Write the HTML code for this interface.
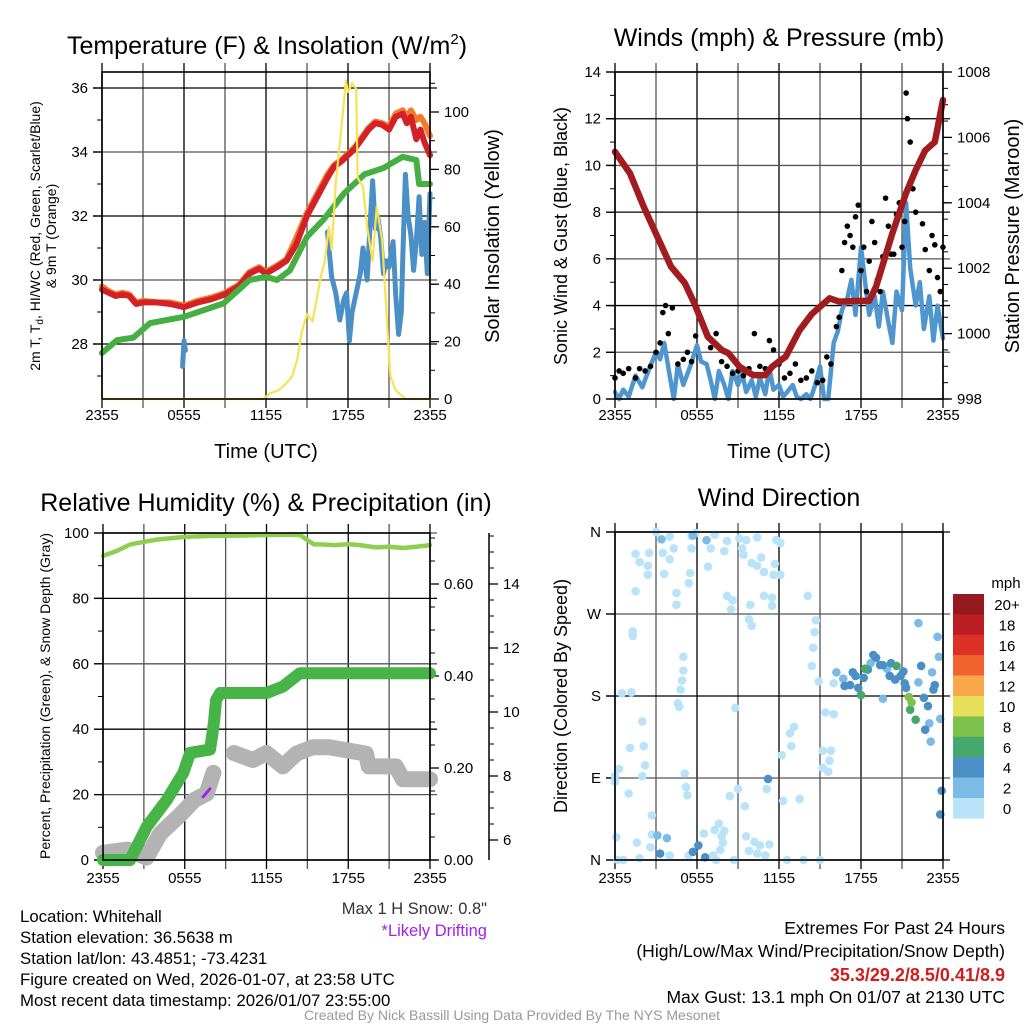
<!DOCTYPE html>
<html><head><meta charset="utf-8">
<style>
html,body{margin:0;padding:0;background:#fff;}
svg{display:block;font-family:"Liberation Sans",Arial,sans-serif;}
</style></head>
<body>
<svg id="chart" width="1024" height="1024" viewBox="0 0 1024 1024" xmlns="http://www.w3.org/2000/svg">
<rect width="1024" height="1024" fill="#fff"/>
<g id="layer"></g>
<text x="267" y="54" font-size="25" text-anchor="middle">Temperature (F) &amp; Insolation (W/m<tspan font-size="15" dy="-10">2</tspan><tspan dy="10">)</tspan></text>
<text x="779" y="46" font-size="25" text-anchor="middle">Winds (mph) &amp; Pressure (mb)</text>
<text x="266" y="511" font-size="25" text-anchor="middle">Relative Humidity (%) &amp; Precipitation (in)</text>
<text x="779" y="506" font-size="25" text-anchor="middle">Wind Direction</text>
<text x="266" y="458" font-size="20" text-anchor="middle">Time (UTC)</text>
<text x="779" y="458" font-size="20" text-anchor="middle">Time (UTC)</text>
<text font-size="14" text-anchor="middle" transform="translate(40,236) rotate(-90)">2m T, T<tspan font-size="10" dy="3">d</tspan><tspan dy="-3">, HI/WC (Red, Green, Scarlet/Blue)</tspan></text>
<text font-size="14" text-anchor="middle" transform="translate(56,236) rotate(-90)">&amp; 9m T (Orange)</text>
<text font-size="20" text-anchor="middle" transform="translate(499,236) rotate(-90)">Solar Insolation (Yellow)</text>
<text font-size="18" text-anchor="middle" transform="translate(567,236) rotate(-90)">Sonic Wind &amp; Gust (Blue, Black)</text>
<text font-size="20" text-anchor="middle" transform="translate(1019,236) rotate(-90)">Station Pressure (Maroon)</text>
<text font-size="14" text-anchor="middle" transform="translate(50,696) rotate(-90)">Percent, Precipitation (Green), &amp; Snow Depth (Gray)</text>
<text font-size="18" text-anchor="middle" transform="translate(567,696) rotate(-90)">Direction (Colored By Speed)</text>
<text x="1006" y="588" font-size="15" text-anchor="middle">mph</text>
<g font-size="16.8">
<text x="20" y="922">Location: Whitehall</text>
<text x="20" y="943">Station elevation: 36.5638 m</text>
<text x="20" y="964">Station lat/lon: 43.4851; -73.4231</text>
<text x="20" y="985">Figure created on Wed, 2026-01-07, at 23:58 UTC</text>
<text x="20" y="1006">Most recent data timestamp: 2026/01/07 23:55:00</text>
</g>
<text x="487" y="914" font-size="16.5" text-anchor="end" fill="#333">Max 1 H Snow: 0.8"</text>
<text x="487" y="936" font-size="16.5" text-anchor="end" fill="#a020f0">*Likely Drifting</text>
<g font-size="17.5" text-anchor="end">
<text x="1005" y="934">Extremes For Past 24 Hours</text>
<text x="1005" y="957">(High/Low/Max Wind/Precipitation/Snow Depth)</text>
<text x="1005" y="981" fill="#d01c1c" font-weight="bold" font-size="18">35.3/29.2/8.5/0.41/8.9</text>
<text x="1005" y="1003">Max Gust: 13.1 mph On 01/07 at 2130 UTC</text>
</g>
<text x="512" y="1020" font-size="14" text-anchor="middle" fill="#999">Created By Nick Bassill Using Data Provided By The NYS Mesonet</text>
</svg>
<script>
// ---------- data ----------
const xTickLabels = ["2355","0555","1155","1755","2355"];
const tempT = [0,0.5,1,1.5,2,2.5,3,4,5,6,7,8,9,10,10.8,11.5,12,12.8,13.5,14.2,15,15.5,16,16.5,17,17.5,18,18.5,19,19.5,20,20.5,21,21.5,22,22.3,22.6,23,23.3,23.6,24];
const tempVals = [29.7,29.6,29.5,29.55,29.5,29.25,29.3,29.3,29.25,29.15,29.3,29.4,29.55,29.8,30.2,30.35,30.2,30.4,30.6,31.1,32.0,32.4,32.8,33.2,33.55,33.7,33.9,34.1,34.4,34.7,34.9,34.85,34.7,35.1,35.2,34.9,35.1,34.4,34.7,34.3,33.9];
const temp9Vals = [29.8,29.65,29.55,29.6,29.55,29.3,29.35,29.3,29.3,29.2,29.35,29.45,29.6,29.85,30.25,30.4,30.25,30.45,30.65,31.3,32.1,32.5,32.9,33.3,33.6,33.75,33.95,34.15,34.45,34.75,34.95,34.9,34.8,35.2,35.3,35.1,35.3,35.0,35.1,34.9,34.5];
const dewT = [0,1.1,2.3,3.5,6,8.9,10.8,12,12.8,13.75,15,16.2,17.7,19.2,20.6,22,22.5,23,23.2,24];
const dewVals = [27.72,28.12,28.2,28.65,28.85,29.27,30.0,30.1,30.0,30.3,31.35,31.88,32.7,33.3,33.5,33.85,33.8,33.75,33.0,33.0];
const wcT1 = [5.9,6.0,6.1];
const wcVals1 = [27.3,28.1,27.8];
const wcT2 = [16.5,16.8,17.1,17.4,17.7,17.9,18.1,18.3,18.6,18.9,19.1,19.4,19.6,19.8,20.0,20.2,20.4,20.6,20.8,21.0,21.3,21.5,21.7,21.9,22.0,22.2,22.4,22.6,22.8,23.0,23.2,23.4,23.6,23.8,24.0];
const wcVals2 = [31.5,30.1,29.6,28.75,29.4,29.6,28.1,29.0,29.6,30.2,31.0,30.0,31.6,33.1,31.6,31.9,31.3,30.2,30.6,30.4,31.2,29.5,28.3,29.0,30.6,33.3,32.0,31.4,30.3,31.2,32.6,30.8,31.8,30.2,32.7];
const solarT = [0,11.8,12.3,12.9,13.4,13.9,14.3,14.6,15,15.4,16,16.3,16.6,16.8,17.1,17.4,17.85,18.0,18.3,18.6,18.7,19.1,19.4,19.8,20.1,20.5,20.8,21.1,21.5,21.8,22.2,24];
const solarVals = [0,0,2,3,5,7.8,14,23,29.6,27,42.5,48,60,52,75,89,111,107,110,108,77,74,60,48,67,55,31,7.8,3,1.7,0,0];
const presT = [0,1.1,2.1,3.1,4.1,5.1,5.8,6.8,7.8,8.3,9.1,10.1,11,11.5,12.5,13.5,14.4,15.7,16.4,17.9,18.6,19.1,20.3,21.3,22,22.7,23.4,24];
const presVals = [1005.56,1004.9,1003.88,1002.96,1002.05,1001.55,1000.93,999.9,999.5,999.4,998.99,998.73,998.73,998.99,999.3,1000.1,1000.6,1001.08,1000.98,1001.0,1001.0,1001.43,1003.07,1004.3,1005.0,1005.6,1005.86,1007.14];
const windT = [0,0.3,0.6,1,1.5,2,2.5,3,3.3,3.6,4,4.3,4.6,5,5.5,6,6.3,6.7,7,7.3,7.6,8,8.3,8.6,9,9.3,9.6,10,10.3,10.6,11,11.3,11.6,12,12.3,12.6,13,13.3,13.6,14,14.3,14.6,15,15.3,15.6,16,16.3,16.6,17,17.3,17.6,18,18.3,18.6,19,19.3,19.6,20,20.3,20.6,21,21.3,21.6,22,22.3,22.6,23,23.3,23.6,24];
const windVals = [0.3,0,0.4,0.1,1.0,0.5,1.3,2.0,1.7,2.4,1.0,0,1.5,0.6,1.4,2.3,1.6,1.5,0.8,0,1.2,0.6,0,1.2,0.6,1.1,0.3,0.8,0.1,0.9,0.2,1.3,0.4,0.6,0.1,0.3,0.6,0.1,0,0.2,0,0.5,1.4,0,0,2.4,2.9,3.8,4.3,5.1,3.6,6.5,5.0,3.6,4.4,3.1,4.6,3.3,2.4,4.6,3.8,8.4,5.6,4.0,5.0,3.0,4.4,2.5,4.0,2.6];
const gustT = [0,0.3,0.6,1.0,1.5,1.8,2.2,2.6,3.0,3.3,3.5,3.7,3.9,4.2,4.6,5.0,5.3,5.6,5.9,6.2,6.6,7.0,7.4,7.8,8.2,8.6,9.0,9.4,9.8,10.2,10.6,11.0,11.3,11.6,12.0,12.4,12.8,13.2,13.6,14.0,14.4,14.8,15.2,15.5,15.8,16.2,16.4,16.6,16.8,17.0,17.2,17.4,17.6,17.8,18.0,18.2,18.4,18.6,18.8,19.0,19.2,19.4,19.6,19.8,20.0,20.2,20.4,20.6,20.8,21.0,21.2,21.3,21.4,21.6,21.8,22.0,22.2,22.5,22.7,23.0,23.2,23.4,23.6,23.8,24.0];
const gustVals = [0.9,1.2,1.1,1.3,0.9,1.3,1.2,1.4,2.0,2.4,3.7,4.0,2.8,3.9,1.5,1.7,2.0,1.6,2.7,3.5,2.9,2.2,2.8,1.6,1.4,1.1,1.2,1.0,1.3,2.8,1.4,1.3,2.5,2.1,1.5,0.9,1.1,1.5,0.8,0.9,1.2,0.7,0.8,1.8,1.5,3.1,3.5,5.5,6.7,7.4,7.0,6.5,7.8,8.3,5.5,6.5,4.6,5.9,7.6,6.7,5.1,4.6,6.1,8.6,7.4,6.2,6.2,7.9,8.4,6.5,7.6,13.1,12.0,11.0,9.0,8.0,10.0,7.5,6.4,5.5,7.0,6.6,5.2,4.6,6.5];
const rhT = [0,1,2,3,4,6,8,10,12,14,14.5,15,15.5,16,17,18,19,20,21,22,23,24];
const rhVals = [93,94.5,96.5,97.3,98,98.8,99.1,99.2,99.4,99.5,99.3,97.8,96.5,96.5,96.3,96.6,96.2,95.6,95.8,95.4,95.8,96.3];
const precipT = [0,1.98,3.2,4.67,5.9,6.4,7.85,8.0,8.15,8.3,8.6,12,13.2,14.45,24];
const precipVals = [0,0,0.072,0.13,0.19,0.233,0.24,0.268,0.30,0.348,0.363,0.363,0.377,0.406,0.406];
const snowT1 = [0,1.8,3.2,4.2,5.7,6.7,7.6,8.1];
const snowVals1 = [5.6,5.7,5.45,6.2,6.8,7.25,7.45,8.1];
const snowT2 = [9.6,11,12,13.2,14.2,15.4,16.6,19.3,19.5,21.5,22,24];
const snowVals2 = [8.72,8.5,8.72,8.3,8.7,8.9,8.9,8.7,8.3,8.3,7.9,7.9];
const driftT = [7.35,7.85];
const driftVals = [7.35,7.6];
const dirT = [3.0,4.0,5.6,5.9,7.3,8.2,9.1,9.6,10.4,11.8,12.1,1.5,2.5,1.8,2.4,2.4,3.5,4.0,4.3,3.6,5.5,5.4,5.6,6.8,7.0,8.0,9.3,9.4,10.0,10.7,10.4,10.9,11.7,11.6,12.1,1.5,4.5,4.5,8.2,8.6,8.5,9.9,10.9,11.5,11.5,14.1,9.8,10.0,14.7,14.6,1.3,1.3,14.5,14.4,14.9,16.0,5.0,5.0,4.9,4.8,4.6,4.7,0.5,1.2,8.8,15.4,16.0,2.0,2.1,1.1,2.2,2.0,0.3,0,0,5.1,5.2,5.3,1.0,2.7,8.4,9.0,9.5,12.3,13.5,11.1,12.2,12.8,13.1,12.9,15.2,15.8,15.7,15.2,15.6,0.1,1.6,2.7,6.5,7.3,7.6,8.0,7.8,7.9,7.7,9.6,10.2,10.6,11.3,9.8,10.4,11.0,1.8,0.6,0.2,2.6,4.0,5.4,7.4,8.7,12.6,13.8,15.0,7.2,
3.4,5.7,6.7,22.2,23.6,23.7,23.8,23.2,22.2,19.6,23.0,23.1,3.8,3.1,16.7,16.2,18.7,19.9,
11.2,23.9,23.8,6.1,5.7,3.3,6.6,17.4,17.6,18.2,18.5,19.1,19.4,20.2,20.1,20.5,20.9,21.2,21.3,16.8,17.2,17.8,22.6,22.9,22.7,22.4,23.4,23.3,21.1,19.6,18.9,
18.3,18.0,20.6,21.6,22.0,21.5,21.7];
const dirVals = [360,355,356,359,357,350,353,351,354,351,348,336,337,327,323,313,337,330,342,314,315,304,342,322,342,339,342,335,326,332,323,316,325,313,313,295,293,280,290,285,275,280,290,288,279,290,264,257,263,250,251,246,233,213,196,194,223,208,197,187,172,168,183,184,167,162,160,152,125,123,104,92,100,92,86,95,80,71,73,49,70,78,59,65,67,78,115,139,146,125,120,120,109,101,97,25,19,28,29,33,40,32,26,19,11,26,20,16,17,10,7,5,2,0,0,14,5,5,0,0,0,0,0,5,
352,356,351,260,245,223,155,206,195,177,150,130,24,27,199,206,216,210,
89,76,50,16,9,7,3,206,202,200,209,222,214,216,202,198,202,194,189,191,192,189,178,169,143,213,192,187,207,214,225,
210,181,213,165,154,179,173];
const dirSpeed = [1,1,1,1,1,1,1,1,1,1,1,1,1,1,1,1,1,1,1,1,1,1,1,1,1,1,1,1,1,1,1,1,1,1,1,1,1,1,1,1,1,1,1,1,1,1,1,1,1,1,1,1,1,1,1,1,1,1,1,1,1,1,1,1,1,1,1,1,1,1,1,1,1,1,1,1,1,1,1,1,1,1,1,1,1,1,1,1,1,1,1,1,1,1,1,1,1,1,1,1,1,1,1,1,1,1,1,1,1,1,1,1,1,1,1,1,1,1,1,1,1,1,1,1,
3,3,3,3,3,3,3,3,3,3,3,3,3,3,3,3,3,3,
5,5,5,5,5,5,5,5,5,5,5,5,5,5,5,5,5,5,5,5,5,5,5,5,5,5,5,5,5,5,5,
7,7,7,7,7,9,9];
const cbLabels = ["20+","18","16","14","12","10","8","6","4","2","0"];
const cbColors = ["#951a1d","#bd1e24","#dd3127","#f0622e","#f8a84a","#e8e05b","#7cc24c","#47a86e","#4a8fc6","#7cbbe6","#b8e3f9"];

// ---------- helpers ----------
const NS = "http://www.w3.org/2000/svg";
const layer = document.getElementById("layer");
function mk(tag, attrs, parent){
  const e = document.createElementNS(NS, tag);
  for (const k in attrs) e.setAttribute(k, attrs[k]);
  (parent||layer).appendChild(e);
  return e;
}
function lin(d0,d1,r0,r1){ return v => r0 + (v-d0)/(d1-d0)*(r1-r0); }
function polyline(ts, vs, sx, sy, stroke, w, name){
  const pts = ts.map((t,i)=>sx(t).toFixed(1)+","+sy(vs[i]).toFixed(1)).join(" ");
  const p = mk("polyline",{points:pts,fill:"none",stroke:stroke,"stroke-width":w,"stroke-linejoin":"round","stroke-linecap":"round"});
  
  
  return p;
}
function frame(P, name, labY){
  const sx = lin(0,24,P.x0,P.x1);
  for (let h=0; h<=24; h+=3){
    const x = sx(h);
    const l = mk("line",{x1:x,x2:x,y1:P.y0-9,y2:P.y1+9,stroke:(h%6===0)?"#000":"#555","stroke-width":1.3});
    
    
  }
  xTickLabels.forEach((lab,i)=>{
    const t = mk("text",{x:sx(i*6),y:P.y1+labY,"font-size":15,"text-anchor":"middle"});
    t.textContent = lab;
    
    
  });
  return sx;
}
function box(P, name){
  const r = mk("rect",{x:P.x0,y:P.y0,width:P.x1-P.x0,height:P.y1-P.y0,fill:"none",stroke:"#000","stroke-width":1.6});
  
  
}
function yAxis(P, sy, ticks, labels, minor, side, name, xPos, grid){
  const x = xPos!==undefined ? xPos : (side==="left"?P.x0:P.x1);
  const dir = side==="left"?-1:1;
  minor.forEach(v=>{
    const l = mk("line",{x1:x,x2:x+dir*5,y1:sy(v),y2:sy(v),stroke:"#000","stroke-width":1});
    
    
  });
  ticks.forEach((v,i)=>{
    const y = sy(v);
    if (grid){
      const g = mk("line",{x1:P.x0-9,x2:P.x1+7,y1:y,y2:y,stroke:(i%2===0)?"#000":"#555","stroke-width":1.3});
      
      
    }
    const l = mk("line",{x1:x,x2:x+dir*9,y1:y,y2:y,stroke:"#000","stroke-width":1.3});
    
    
    const t = mk("text",{x:x+dir*14,y:y+5,"font-size":15,"text-anchor":side==="left"?"end":"start"});
    t.textContent = labels[i];
    
    
  });
}
function range(a,b,s){ const r=[]; for(let v=a; v<=b+1e-9; v+=s) r.push(+v.toFixed(4)); return r; }

// ---------- Panel 1 ----------
{
  const P = {x0:102,x1:430,y0:72,y1:399};
  const sx = frame(P,"p1",21);
  const sy = lin(28,36,344,88);
  const sr = lin(0,100,399,112);
  yAxis(P, sy, [28,30,32,34,36], ["28","30","32","34","36"], range(27,36,1), "left","p1-y", undefined, true);
  yAxis(P, sr, [0,20,40,60,80,100], ["0","20","40","60","80","100"], range(0,110,10), "right","p1-right");
  polyline(tempT, temp9Vals, sx, sy, "#f47b2a", 6, "series-9m-temp");
  polyline(tempT, tempVals, sx, sy, "#d42027", 6, "series-2m-temp");
  polyline(dewT, dewVals, sx, sy, "#45b041", 6, "series-dewpoint");
  polyline(wcT1, wcVals1, sx, sy, "#4a8fc6", 5, "series-windchill-early");
  polyline(wcT2, wcVals2, sx, sy, "#4a8fc6", 5, "series-windchill");
  polyline(solarT, solarVals, sx, sr, "#f7e253", 2.2, "series-solar");
  box(P,"p1");
}
// ---------- Panel 2 ----------
{
  const P = {x0:615,x1:943,y0:72,y1:399};
  const sx = frame(P,"p2",21);
  const sy = lin(0,14,399,72);
  const sp = lin(998,1008,399,72);
  yAxis(P, sy, [0,2,4,6,8,10,12,14], ["0","2","4","6","8","10","12","14"], range(0,14,1), "left","p2-y", undefined, true);
  yAxis(P, sp, [998,1000,1002,1004,1006,1008], ["998","1000","1002","1004","1006","1008"], range(998,1008,0.5), "right","p2-right");
  polyline(windT, windVals, sx, sy, "#4f95cf", 4.5, "series-sonic-wind");
  gustT.forEach((t,i)=>{
    const c = mk("circle",{cx:sx(t),cy:sy(gustVals[i]),r:2.8,fill:"#000"});
    
    
  });
  polyline(presT, presVals, sx, sp, "#a11c1f", 6.5, "series-pressure");
  box(P,"p2");
}
// ---------- Panel 3 ----------
{
  const P = {x0:103,x1:430,y0:533,y1:860};
  const sx = frame(P,"p3",23);
  const sy = lin(0,100,860,533);
  const spc = lin(0,0.2,860,768);
  const ssn = lin(6,8,840,776);
  yAxis(P, sy, [0,20,40,60,80,100], ["0","20","40","60","80","100"], range(0,100,10), "left","p3-y", undefined, true);
  yAxis(P, spc, [0,0.2,0.4,0.6], ["0.00","0.20","0.40","0.60"], range(0,0.7,0.05), "right","p3-precip");
  const ax = mk("line",{x1:489,x2:489,y1:533,y2:860,stroke:"#000","stroke-width":1.5});
  
  
  yAxis(P, ssn, [6,8,10,12,14], ["6","8","10","12","14"], range(6,15.5,0.5), "right","p3-snow", 489);
  polyline(snowT1, snowVals1, sx, ssn, "#b3b3b3", 16, "series-snow-depth-early");
  polyline(snowT2, snowVals2, sx, ssn, "#b3b3b3", 16, "series-snow-depth");
  polyline(driftT, driftVals, sx, ssn, "#a020f0", 3, "series-drifting");
  polyline(precipT, precipVals, sx, spc, "#47b447", 12, "series-precip");
  polyline(rhT, rhVals, sx, sy, "#8fcf50", 4.5, "series-rh");
  box(P,"p3");
}
// ---------- Panel 4 ----------
{
  const P = {x0:615,x1:943,y0:532,y1:860};
  const sx = frame(P,"p4",23);
  const sy = lin(0,360,860,532);
  yAxis(P, sy, [0,90,180,270,360], ["N","E","S","W","N"], [], "left","p4-y", undefined, true);
  const colorFor = s => cbColors[10 - Math.min(10, Math.floor(s/2))];
  dirT.forEach((t,i)=>{
    const c = mk("circle",{cx:sx(t),cy:sy(dirVals[i]),r:4.3,fill:colorFor(dirSpeed[i])});
    
    
  });
  box(P,"p4");
  cbLabels.forEach((lab,i)=>{
    const y = 594 + i*20.4;
    const r = mk("rect",{x:953,y:y,width:31,height:20.6,fill:cbColors[i]});
    
    
    const t = mk("text",{x:1007,y:y+16,"font-size":15,"text-anchor":"middle"});
    t.textContent = lab;
    
    
  });
}
</script>
</body></html>
